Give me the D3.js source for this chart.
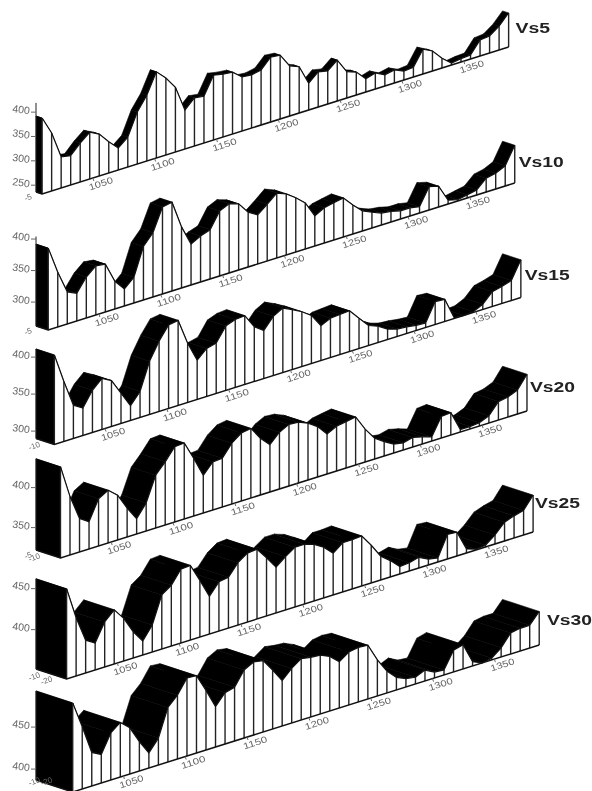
<!DOCTYPE html>
<html>
<head>
<meta charset="utf-8">
<script src="https://cdn.jsdelivr.net/npm/d3@7"></script>
<style>
  html, body { margin: 0; padding: 0; background: #fff; }
  svg { display: block; filter: blur(0.55px); }
  text { font-family: "Liberation Sans", Arial, sans-serif; }
  .tick-lab { fill: #666; font-size: 10.5px; }
  .name { fill: #222; font-size: 14px; font-weight: bold; }
</style>
</head>
<body>
<svg id="chart" width="592" height="791"></svg>
<script>
// station positions along the profile (km), shared by all six ribbons
const stations = [1009.0, 1016.7, 1024.4, 1032.1, 1039.8, 1047.5, 1055.2, 1062.9, 1070.6, 1078.3,
  1086.0, 1093.7, 1101.4, 1109.1, 1116.8, 1124.5, 1132.2, 1139.9, 1147.6, 1155.3,
  1163.0, 1170.7, 1178.4, 1186.1, 1193.8, 1201.5, 1209.2, 1216.9, 1224.6, 1232.3,
  1240.0, 1247.7, 1255.4, 1263.1, 1270.8, 1278.5, 1286.2, 1293.9, 1301.6, 1309.3,
  1317.0, 1324.7, 1332.4, 1340.1, 1347.8, 1355.5, 1363.2, 1370.9, 1378.6, 1386.3];

const vs5 = [392, 355, 300, 296, 316, 332, 322, 300, 281, 297,
  343, 371, 413, 394, 369, 316, 335, 332, 369, 365,
  363, 347, 345, 349, 369, 367, 339, 331, 291, 308,
  304, 320, 290, 283, 263, 269, 259, 263, 254, 256,
  287, 277, 256, 240, 243, 244, 269, 271, 285, 306];
const vs10 = [392, 349, 313, 306, 327, 340, 338, 306, 289, 303,
  347, 364, 400, 403, 359, 327, 335, 340, 365, 372,
  367, 349, 340, 352, 365, 359, 348, 335, 310, 318,
  321, 324, 308, 294, 287, 281, 279, 275, 275, 272,
  299, 295, 268, 264, 267, 270, 284, 287, 294, 322];
const vs15 = [411, 371, 335, 327, 347, 359, 352, 331, 310, 325,
  362, 385, 403, 405, 370, 343, 355, 358, 377, 382,
  383, 364, 355, 370, 377, 371, 364, 355, 337, 343,
  344, 345, 331, 317, 312, 304, 300, 299, 297, 296,
  321, 320, 291, 290, 291, 297, 310, 313, 317, 341];
const vs20 = [436, 395, 364, 356, 381, 388, 378, 358, 341, 357,
  388, 401, 416, 417, 394, 369, 382, 383, 398, 407,
  409, 393, 381, 393, 399, 398, 393, 385, 372, 378,
  380, 382, 363, 348, 340, 333, 331, 334, 331, 327,
  349, 350, 325, 325, 326, 331, 345, 347, 352, 368];
const vs25 = [462, 423, 392, 385, 407, 418, 404, 384, 369, 385,
  418, 426, 442, 443, 421, 398, 412, 414, 428, 436,
  437, 423, 408, 417, 425, 425, 421, 414, 403, 412,
  412, 413, 398, 381, 372, 361, 362, 365, 359, 357,
  382, 381, 357, 353, 354, 363, 375, 379, 382, 397];
const vs30 = [493, 461, 427, 421, 443, 452, 442, 422, 405, 419,
  452, 463, 480, 479, 458, 435, 448, 451, 468, 474,
  472, 457, 441, 452, 460, 458, 457, 452, 442, 450,
  452, 451, 430, 413, 402, 397, 395, 400, 394, 393,
  413, 416, 392, 387, 389, 398, 412, 414, 414, 427];

const names = ["Vs5", "Vs10", "Vs15", "Vs20", "Vs25", "Vs30"];
const series = [vs5, vs10, vs15, vs20, vs25, vs30];
const depths = [5, 10, 15, 20, 25, 30];
const xTicks = [1050, 1100, 1150, 1200, 1250, 1300, 1350];
const yTicks = [[400, 350, 300, 250], [400, 350, 300], [400, 350, 300], [400, 350], [450, 400], [450, 400]];
const depthTicks = [[5], [5], [10], [5, 10], [10, 20], [10, 20]];
const axisTop = [419, 404, 411, 436, 462, 493];

// per-panel vertical scale: value at the floor, px per unit, floor y at the back left corner
const zFloor = [236, 262, 290, 322, 352, 387];
const zPx = [0.487, 0.63, 0.74, 0.8, 0.82, 0.84];
const floorY = [192, 326, 438.5, 550, 669, 780];
const labelBox = [[515.5, 33, 34.5], [518.7, 167, 45], [524.7, 280, 45], [530, 392, 45], [535, 508, 45], [547, 625, 45]];

const svg = d3.select("#chart");
const xS = d3.scaleLinear().domain([stations[0], stations[stations.length - 1]]).range([36, 502.5]);
const rise = 147 / 466.5;         // floor climbs to the right
const depthX = 1.224, depthY = 0.4; // oblique axis

series.forEach((vals, p) => {
  const d = depths[p];
  const z = d3.scaleLinear().domain([zFloor[p], zFloor[p] + 100]).range([0, zPx[p] * 100]);
  // oblique projection of (distance, value, depth)
  const proj = (x, v, dep) => [
    xS(x) + dep * depthX,
    floorY[p] - (xS(x) - 36) * rise + dep * depthY - z(v)
  ];
  const g = svg.append("g").attr("class", "panel");
  const pts = stations.map((s, i) => ({ s, v: vals[i] }));

  // top surface of the ribbon, one quad per segment
  g.selectAll("polygon.quad").data(pts.slice(0, -1)).join("polygon")
    .attr("class", "quad")
    .attr("fill", "#000").attr("stroke", "#000").attr("stroke-width", 0.6)
    .attr("points", (a, i) => {
      const b = pts[i + 1];
      return [proj(a.s, a.v, 0), proj(b.s, b.v, 0), proj(b.s, b.v, d), proj(a.s, a.v, d)].join(" ");
    });

  // left end cap
  const first = pts[0];
  g.append("polygon").attr("fill", "#000").attr("stroke", "#000").attr("stroke-width", 0.6)
    .attr("points", [proj(first.s, zFloor[p], 0), proj(first.s, first.v, 0),
      proj(first.s, first.v, d), proj(first.s, zFloor[p], d)].join(" "));

  // front wall: white curtain under the curve
  const wall = pts.map((q) => proj(q.s, q.v, d));
  const last = pts[pts.length - 1];
  wall.push(proj(last.s, zFloor[p], d), proj(first.s, zFloor[p], d));
  g.append("polygon").attr("fill", "#fff").attr("points", wall.join(" "));

  // curtain verticals
  g.selectAll("line.post").data(pts).join("line")
    .attr("class", "post").attr("stroke", "#222").attr("stroke-width", 1.4)
    .attr("x1", (q) => proj(q.s, q.v, d)[0]).attr("x2", (q) => proj(q.s, q.v, d)[0])
    .attr("y1", (q) => proj(q.s, q.v, d)[1]).attr("y2", (q) => proj(q.s, zFloor[p], d)[1]);

  // front curve + floor line
  const line = d3.line();
  g.append("path").attr("fill", "none").attr("stroke", "#111").attr("stroke-width", 1.2)
    .attr("d", line(pts.map((q) => proj(q.s, q.v, d))));
  g.append("path").attr("fill", "none").attr("stroke", "#111").attr("stroke-width", 1.5)
    .attr("d", line([proj(first.s, zFloor[p], 0), proj(first.s, zFloor[p], d), proj(last.s, zFloor[p], d)]));

  // value axis on the back left corner
  g.append("line").attr("stroke", "#222").attr("stroke-width", 1)
    .attr("x1", 36).attr("x2", 36)
    .attr("y1", proj(first.s, zFloor[p], 0)[1]).attr("y2", proj(first.s, axisTop[p], 0)[1]);
  const yt = g.selectAll("g.yt").data(yTicks[p]).join("g").attr("class", "yt");
  yt.append("line").attr("stroke", "#666")
    .attr("x1", 31).attr("x2", 36)
    .attr("y1", (t) => proj(first.s, t, 0)[1]).attr("y2", (t) => proj(first.s, t, 0)[1]);
  yt.append("text").attr("class", "tick-lab").attr("text-anchor", "end")
    .attr("x", 29.5).attr("y", (t) => proj(first.s, t, 0)[1] + 1)
    .attr("transform", (t) => `rotate(8 20 ${proj(first.s, t, 0)[1]})`)
    .text((t) => t);

  // distance ticks under the floor
  const xt = g.selectAll("g.xt").data(xTicks).join("g").attr("class", "xt");
  xt.append("line").attr("stroke", "#666")
    .attr("x1", (t) => proj(t, zFloor[p], d)[0]).attr("x2", (t) => proj(t, zFloor[p], d)[0] + 1)
    .attr("y1", (t) => proj(t, zFloor[p], d)[1]).attr("y2", (t) => proj(t, zFloor[p], d)[1] + 3);
  xt.append("text").attr("class", "tick-lab").attr("text-anchor", "middle")
    .attr("textLength", 25).attr("lengthAdjust", "spacingAndGlyphs")
    .style("font-size", "9px")
    .attr("transform", (t) => {
      const c = proj(t, zFloor[p], d);
      return `translate(${c[0] + 9},${c[1] + 8.5}) rotate(-18)`;
    })
    .text((t) => t);

  // depth ticks at the corner, held inside the page at the bottom panel
  g.selectAll("text.dt").data(depthTicks[p]).join("text")
    .attr("class", "tick-lab dt").attr("text-anchor", "middle").style("font-size", "8px")
    .attr("transform", (t) => {
      const c = proj(first.s, zFloor[p], t);
      return `translate(${c[0] - 13},${Math.min(c[1] + 6, 784)}) rotate(-20)`;
    })
    .text((t) => "-" + t);
});

// panel names last, so no white curtain sits over them
svg.selectAll("text.name").data(names).join("text")
  .attr("class", "name")
  .attr("x", (_, i) => labelBox[i][0]).attr("y", (_, i) => labelBox[i][1])
  .attr("textLength", (_, i) => labelBox[i][2]).attr("lengthAdjust", "spacingAndGlyphs")
  .text((n) => n);
</script>
</body>
</html>
